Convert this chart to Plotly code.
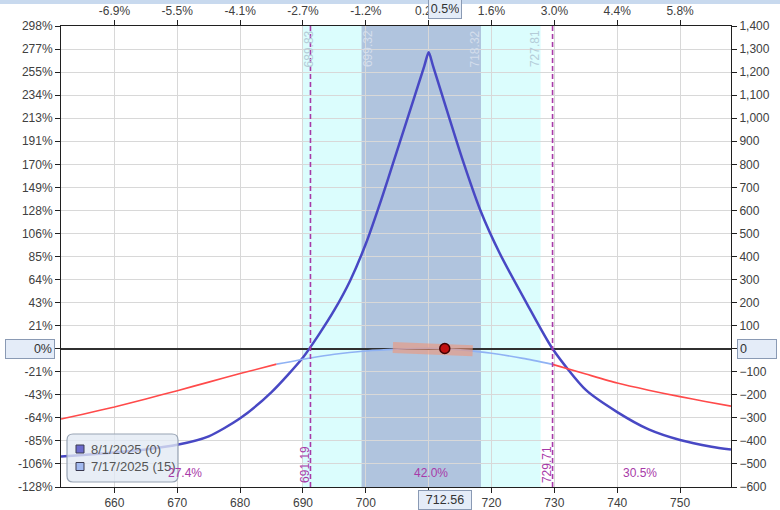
import plotly.graph_objects as go

# underlying price axis
x_ticks = [660, 670, 680, 690, 700, 710, 720, 730, 740, 750]
x_range = [651.5, 758.1]
pct_move_labels = ["-6.9%", "-5.5%", "-4.1%", "-2.7%", "-1.2%", "0.2%", "1.6%", "3.0%", "4.4%", "5.8%"]

# P&L axis ($ on the right, % of risk on the left)
pl_ticks = list(range(-600, 1401, 100))
pl_pct_labels = ["-128%", "-106%", "-85%", "-64%", "-43%", "-21%", "0%", "21%", "43%", "64%", "85%",
                 "106%", "128%", "149%", "170%", "191%", "213%", "234%", "255%", "277%", "298%"]

# expiration curve 8/1/2025 (0)
exp_x = [651.5, 655, 660, 665, 670, 675, 680, 685, 690, 692.5, 695, 697.5, 700, 702.5, 704.4, 709.3, 710,
         710.7, 715.4, 718.2, 721.3, 725.6, 729.71, 735, 740, 745, 750, 755, 758.1]
exp_y = [-468, -461, -450, -437, -417, -380, -302, -188, -38, 60, 168, 295, 455, 650, 810, 1226, 1286,
         1226, 819, 602, 414, 197, 0, -179, -275, -350, -396, -425, -437]

# T+0 curve 7/17/2025 (15)
t0_x = [651.5, 655, 660, 665, 670, 675, 680, 685.8, 691.2, 695, 700, 705, 710, 712.56, 715, 720, 725,
        729.71, 735, 740, 745, 750, 754, 758.1]
t0_y = [-305, -284, -253, -218, -182, -145, -108, -67, -40, -24, -10, -2, 2, 0, -5, -20, -42,
        -68, -110, -149, -180, -208, -229, -249]
t0_left_end = 685.8
t0_right_start = 729.71

# expected move band and current position
move_x = [704.3, 708, 712.56, 717]
move_y = [5, 3, 1, -9]
price_now = 712.56
pl_now = 1
price_now_pct = "0.5%"

# standard deviation ranges and breakevens
sd1 = [699.32, 718.32]
sd2 = [689.83, 727.81]
breakevens = [691.19, 729.71]
probs = [(671.2, "27.4%"), (710.3, "42.0%"), (743.7, "30.5%")]
probs_y = -538

legend_names = ["8/1/2025 (0)", "7/17/2025 (15)"]
legend_colors = ["#6a6acc", "#a2baf0"]

exp_color = "#4848c4"
t0_blue = "#8fb2f4"
t0_red = "#ff4a4a"
be_color = "#a83aa8"
font = "Liberation Sans, Arial, sans-serif"

# plot area in pixels, used to place the hand-drawn legend
L, R, T, B = 61, 731, 26, 487
PW, PH = R - L, B - T


def px(x):
    return (x - L) / PW


def py(y):
    return (B - y) / PH


fig = go.Figure()

fig.add_trace(go.Scatter(x=exp_x, y=exp_y, mode="lines",
                         line=dict(color=exp_color, width=2.5, shape="spline", smoothing=0.7),
                         showlegend=False, hoverinfo="skip"))

left = [(a, b) for a, b in zip(t0_x, t0_y) if a <= t0_left_end]
mid = [(a, b) for a, b in zip(t0_x, t0_y) if t0_left_end <= a <= t0_right_start]
right = [(a, b) for a, b in zip(t0_x, t0_y) if a >= t0_right_start]
for seg, col in [(left, t0_red), (mid, t0_blue), (right, t0_red)]:
    fig.add_trace(go.Scatter(x=[p[0] for p in seg], y=[p[1] for p in seg], mode="lines",
                             line=dict(color=col, width=1.6, shape="spline", smoothing=0.6),
                             showlegend=False, hoverinfo="skip"))

fig.add_trace(go.Scatter(x=move_x, y=move_y, mode="lines", line=dict(color="rgba(240,150,120,0.6)", width=11),
                         showlegend=False, hoverinfo="skip"))
fig.add_trace(go.Scatter(x=[price_now], y=[pl_now], mode="markers",
                         marker=dict(size=10, color="#c01010", line=dict(color="#400000", width=1.5)),
                         showlegend=False, hoverinfo="skip"))

# dummy trace so the top / left axes get drawn
fig.add_trace(go.Scatter(x=[None], y=[None], xaxis="x2", yaxis="y2", showlegend=False, hoverinfo="skip"))

shapes = []
shapes.append(dict(type="rect", xref="x", yref="paper", x0=sd2[0], x1=sd2[1], y0=0, y1=1,
                   fillcolor="#dbfdfd", line=dict(width=0), layer="below"))
shapes.append(dict(type="rect", xref="x", yref="paper", x0=sd1[0], x1=sd1[1], y0=0, y1=1,
                   fillcolor="#b0c4de", line=dict(width=0), layer="below"))
for b in breakevens:
    shapes.append(dict(type="line", xref="x", yref="paper", x0=b, x1=b, y0=0, y1=1,
                       line=dict(color=be_color, width=1.6, dash="5px,3px")))
# light strip at the very top of the window
shapes.append(dict(type="rect", xref="paper", yref="paper", x0=px(0), x1=px(780),
                   y0=py(4), y1=py(0), fillcolor="#c8d9ee", line=dict(width=0)))

# legend box with rounded corners
lx0, lx1, ly0, ly1, rr = 67, 178, 434, 482, 6
path = (f"M {px(lx0 + rr)},{py(ly0)} L {px(lx1 - rr)},{py(ly0)} Q {px(lx1)},{py(ly0)} {px(lx1)},{py(ly0 + rr)} "
        f"L {px(lx1)},{py(ly1 - rr)} Q {px(lx1)},{py(ly1)} {px(lx1 - rr)},{py(ly1)} "
        f"L {px(lx0 + rr)},{py(ly1)} Q {px(lx0)},{py(ly1)} {px(lx0)},{py(ly1 - rr)} "
        f"L {px(lx0)},{py(ly0 + rr)} Q {px(lx0)},{py(ly0)} {px(lx0 + rr)},{py(ly0)} Z")
shapes.append(dict(type="path", xref="paper", yref="paper", path=path,
                   fillcolor="rgba(226,233,243,0.78)", line=dict(color="#97a3b4", width=1.2)))

ann = []
for i, (name, col) in enumerate(zip(legend_names, legend_colors)):
    cy = 449 + 17.5 * i
    shapes.append(dict(type="rect", xref="paper", yref="paper", x0=px(76), x1=px(84), y0=py(cy + 4), y1=py(cy - 4),
                       fillcolor=col, line=dict(color="#3a3a50", width=1)))
    ann.append(dict(x=px(89), y=py(cy), xref="paper", yref="paper", text=name, showarrow=False,
                    xanchor="left", yanchor="middle", font=dict(size=13, color="#555", family=font)))

for v, shift, col in [(sd2[0], 7, "#b4ccd8"), (sd1[0], 6, "#d4deec"), (sd1[1], -6, "#d4deec"), (sd2[1], -6, "#b4ccd8")]:
    ann.append(dict(x=v, y=1, xref="x", yref="paper", text=f"{v:.2f}", textangle=-90, showarrow=False,
                    xanchor="center", yanchor="top", xshift=shift, yshift=-2, font=dict(size=12, color=col, family=font)))
for b in breakevens:
    ann.append(dict(x=b, y=0, xref="x", yref="paper", text=f"{b:.2f}", textangle=-90, showarrow=False,
                    xanchor="center", yanchor="bottom", xshift=-6, yshift=2, font=dict(size=12, color=be_color, family=font)))
for xp, txt in probs:
    ann.append(dict(x=xp, y=probs_y, xref="x", yref="y", text=txt, showarrow=False,
                    font=dict(size=12, color=be_color, family=font)))

box = dict(bgcolor="#e4ecf8", bordercolor="#8a9ab4", borderwidth=1, borderpad=2)
ann.append(dict(x=price_now, y=0, xref="x", yref="paper", text=f"{price_now:.2f}", showarrow=False,
                yanchor="top", yshift=-3, width=48, font=dict(size=12.5, color="#333", family=font), **box))
ann.append(dict(x=price_now, y=1, xref="x", yref="paper", text=price_now_pct, showarrow=False,
                yanchor="bottom", yshift=7, width=28, font=dict(size=12.5, color="#333", family=font), **box))
ann.append(dict(x=0, y=0, xref="paper", yref="y", text="0%", showarrow=False, xanchor="right", xshift=-6,
                width=44, align="right", font=dict(size=12.5, color="#333", family=font), **box))
ann.append(dict(x=1, y=0, xref="paper", yref="y", text="0", showarrow=False, xanchor="left", xshift=6,
                width=34, align="left", font=dict(size=12.5, color="#333", family=font), **box))

axis_common = dict(showline=True, linecolor="#202020", linewidth=1, ticks="outside", ticklen=5,
                   tickcolor="#202020", automargin=False, tickfont=dict(size=12, color="#404040", family=font))

fig.update_layout(
    width=780, height=510,
    margin=dict(l=L, r=780 - R, t=T, b=510 - B, autoexpand=False),
    paper_bgcolor="white", plot_bgcolor="white",
    font=dict(family=font),
    xaxis=dict(range=x_range, tickvals=x_ticks, showgrid=True, gridcolor="#d8d8d8", zeroline=False, **axis_common),
    xaxis2=dict(range=x_range, overlaying="x", side="top", tickvals=x_ticks, ticktext=pct_move_labels,
                showgrid=False, zeroline=False, **axis_common),
    yaxis=dict(range=[-600, 1400], side="right", tickvals=pl_ticks, tickformat=",d", showgrid=True,
               gridcolor="#d8d8d8", zeroline=True, zerolinecolor="#303030", zerolinewidth=1.5, **axis_common),
    yaxis2=dict(range=[-600, 1400], overlaying="y", side="left", tickvals=pl_ticks, ticktext=pl_pct_labels,
                showgrid=False, zeroline=False, **axis_common),
    shapes=shapes,
    annotations=ann,
    showlegend=False,
)

fig.write_html("out.html", config={"displayModeBar": False},
               post_script="document.body.style.margin='0';document.body.style.overflow='hidden';")
